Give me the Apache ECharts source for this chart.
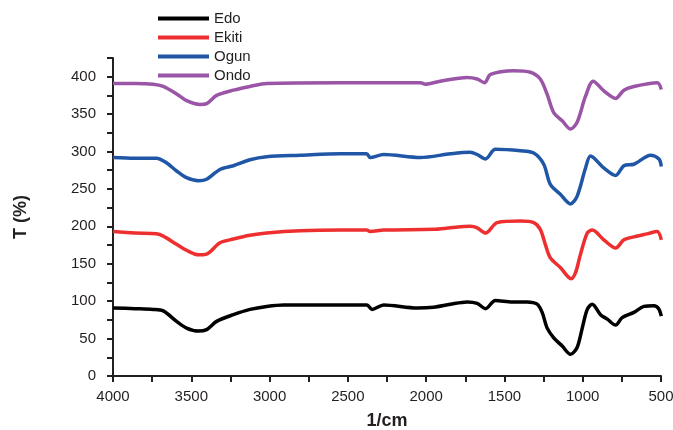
<!DOCTYPE html>
<html><head><meta charset="utf-8">
<script src="https://cdn.jsdelivr.net/npm/echarts@6/dist/echarts.min.js"></script>
<style>html,body{margin:0;padding:0;background:#fff}#c{width:673px;height:430px}</style>
</head><body><div id="c"></div>
<script>
const seriesNames = ['Edo', 'Ekiti', 'Ogun', 'Ondo'];
const seriesColors = ['#000000', '#ee2f2f', '#1f56a6', '#9a55a6'];
const xTickLabels = [4000, 3500, 3000, 2500, 2000, 1500, 1000, 500];
const yTickLabels = [0, 50, 100, 150, 200, 250, 300, 350, 400];

const edo = [[4000,91],[3860,90],[3744,89],[3679,87],[3594,73],[3530,64],[3455,60],[3402,62],[3338,73],[3231,82],[3125,89],[3018,93],[2911,95],[2549,95],[2378,95],[2346,89],[2271,95],[2058,91],[1952,92],[1845,96],[1738,99],[1674,97],[1621,90],[1558,101],[1450,99],[1355,99],[1291,96],[1259,85],[1227,64],[1185,51],[1131,40],[1078,29],[1036,38],[1003,64],[971,89],[939,96],[886,82],[843,76],[790,68],[748,78],[673,85],[609,93],[545,94],[515,90],[498,80]];
const ekiti = [[4000,193],[3860,191],[3723,190],[3679,187],[3594,176],[3530,168],[3455,162],[3402,163],[3317,178],[3231,183],[3125,188],[3018,191],[2805,194],[2549,195],[2380,195],[2358,193],[2271,195],[1952,196],[1845,198],[1719,200],[1674,198],[1621,191],[1546,205],[1398,207],[1313,205],[1271,196],[1239,176],[1207,158],[1143,145],[1074,130],[1046,138],[1015,162],[971,191],[939,195],[865,182],[790,171],[737,182],[673,186],[588,190],[524,193],[498,182]];
const ogun = [[4000,292],[3860,291],[3723,291],[3659,285],[3594,274],[3530,265],[3455,261],[3402,263],[3317,276],[3231,281],[3125,289],[3018,293],[2805,295],[2549,297],[2380,297],[2358,292],[2271,296],[2037,292],[1845,297],[1719,299],[1674,296],[1621,290],[1558,303],[1398,301],[1313,298],[1249,283],[1207,256],[1143,243],[1078,230],[1036,240],[982,278],[950,294],[865,278],[790,268],[737,281],[673,283],[566,295],[513,290],[498,280]];
const ondo = [[4000,391],[3860,391],[3744,390],[3679,387],[3594,377],[3530,368],[3445,363],[3402,364],[3338,375],[3231,382],[3125,387],[3018,391],[2549,392],[2037,392],[2005,390],[1910,394],[1738,399],[1674,397],[1627,392],[1589,403],[1440,408],[1334,406],[1271,397],[1228,377],[1185,352],[1131,341],[1078,330],[1036,339],[982,374],[933,394],[865,381],[790,371],[737,382],[673,387],[524,392],[498,383]];
const allData = [edo, ekiti, ogun, ondo];

const chart = echarts.init(document.getElementById('c'), null, {renderer: 'canvas'});
const font = 'Liberation Sans, Arial, sans-serif';
chart.setOption({
  animation: false,
  backgroundColor: '#fff',
  grid: {left: 113, right: 12, top: 58, bottom: 54, containLabel: false, outerBoundsMode: 'none'},
  legend: {
    orient: 'vertical', left: 158, top: 11, padding: 0, itemWidth: 51, itemHeight: 4, itemGap: 4,
    icon: 'rect',
    textStyle: {fontFamily: font, fontSize: 15, color: '#231f20', padding: [0,0,0,0]},
    data: seriesNames
  },
  xAxis: {
    type: 'value', inverse: true, min: 500, max: 4000, interval: 250,
    name: '1/cm', nameLocation: 'middle', nameGap: 36,
    nameTextStyle: {fontFamily: font, fontSize: 18, fontWeight: 'bold', color: '#231f20'},
    axisLine: {lineStyle: {color: '#231f20', width: 2}},
    axisTick: {length: 6, lineStyle: {color: '#231f20', width: 2}},
    axisLabel: {fontFamily: font, fontSize: 15, color: '#231f20', margin: 13,
      formatter: v => xTickLabels.indexOf(v) >= 0 ? String(v) : ''},
    splitLine: {show: false}
  },
  yAxis: {
    type: 'value', min: 0, max: 425, interval: 25,
    name: 'T (%)', nameLocation: 'middle', nameGap: 83, nameRotate: 90,
    nameTextStyle: {fontFamily: font, fontSize: 18, fontWeight: 'bold', color: '#231f20'},
    axisLine: {show: true, lineStyle: {color: '#231f20', width: 2}},
    axisTick: {show: true, length: 6, lineStyle: {color: '#231f20', width: 2}},
    axisLabel: {fontFamily: font, fontSize: 15, color: '#231f20', margin: 17,
      formatter: v => yTickLabels.indexOf(v) >= 0 ? String(v) : ''},
    splitLine: {show: false}
  },
  series: seriesNames.map((n, i) => ({
    name: n, type: 'line', data: allData[i], showSymbol: false, symbol: 'none',
    smooth: 0.3, color: seriesColors[i],
    lineStyle: {width: 3.5, color: seriesColors[i]}
  }))
});
</script></body></html>
